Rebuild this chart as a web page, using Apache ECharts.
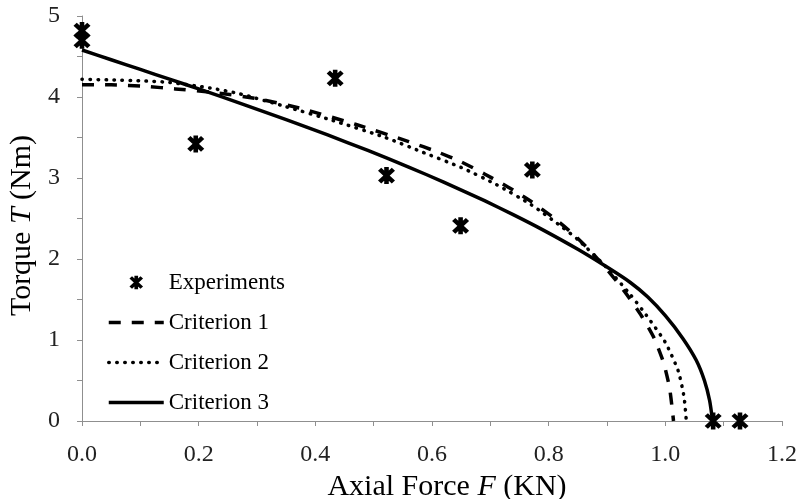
<!DOCTYPE html>
<html>
<head>
<meta charset="utf-8">
<script src="https://cdn.jsdelivr.net/npm/echarts@6/dist/echarts.min.js"></script>
<style>
html,body{margin:0;padding:0;background:#fff;}
#chart{width:799px;height:499px;}
</style>
</head>
<body>
<div id="chart"></div>
<script>
// ---- data ----
const expF = [0.0, 0.0, 0.195, 0.434, 0.522, 0.649, 0.772, 1.082, 1.128];
const expT = [4.82, 4.70, 3.42, 4.23, 3.03, 2.41, 3.10, 0.0, 0.0];

const crit1F = [0, 0.05, 0.11, 0.16, 0.22, 0.30, 0.38, 0.47, 0.56, 0.61, 0.65, 0.69, 0.73, 0.77, 0.81, 0.84, 0.87, 0.90, 0.93, 0.959, 0.981, 0.997, 1.007, 1.012, 1.014];
const crit1T = [4.15, 4.15, 4.13, 4.10, 4.06, 3.98, 3.85, 3.66, 3.45, 3.32, 3.20, 3.05, 2.89, 2.71, 2.50, 2.32, 2.11, 1.87, 1.60, 1.30, 1.02, 0.72, 0.42, 0.14, 0.0];

const crit2F = [0, 0.05, 0.10, 0.15, 0.22, 0.27, 0.35, 0.43, 0.52, 0.58, 0.65, 0.71, 0.77, 0.82, 0.85, 0.90, 0.94, 0.967, 1.0, 1.022, 1.032, 1.036];
const crit2T = [4.22, 4.21, 4.20, 4.18, 4.11, 4.04, 3.88, 3.71, 3.50, 3.33, 3.13, 2.92, 2.67, 2.41, 2.24, 1.89, 1.56, 1.31, 0.97, 0.62, 0.30, 0.0];

const crit3F = [0, 0.05, 0.10, 0.15, 0.20, 0.28, 0.35, 0.42, 0.49, 0.56, 0.62, 0.69, 0.74, 0.79, 0.85, 0.90, 0.94, 0.97, 1.0, 1.03, 1.053, 1.067, 1.076, 1.081];
const crit3T = [4.58, 4.46, 4.34, 4.22, 4.10, 3.90, 3.72, 3.535, 3.34, 3.135, 2.95, 2.72, 2.545, 2.36, 2.12, 1.90, 1.71, 1.53, 1.30, 1.02, 0.75, 0.50, 0.25, 0.0];

const seriesNames = ['Experiments', 'Criterion 1', 'Criterion 2', 'Criterion 3'];
const xTickLabels = ['0.0', '0.2', '0.4', '0.6', '0.8', '1.0', '1.2'];
const yTickLabels = ['0', '1', '2', '3', '4', '5'];

function pairs(xs, ys) { return xs.map((x, i) => [x, ys[i]]); }

const starPath = 'path://M-2,-8L2,-8L2,8L-2,8Z' +
  'M-4.59,-7.41L7.41,4.59L4.59,7.41L-7.41,-4.59Z' +
  'M4.59,-7.41L7.41,-4.59L-4.59,7.41L-7.41,4.59Z';

const serif = 'Liberation Serif';
const axisGray = '#8f8f8f';

const chart = echarts.init(document.getElementById('chart'), null, {renderer: 'canvas'});
chart.setOption({
  animation: false,
  backgroundColor: '#fff',
  grid: {left: 82, right: 17, top: 16, bottom: 78, containLabel: false, outerBoundsMode: 'none'},
  xAxis: {
    type: 'value', min: 0, max: 1.2, interval: 0.1,
    name: '{n|Axial Force }{i|F}{n| (KN)}',
    nameLocation: 'middle', nameGap: 48,
    nameTextStyle: {
      padding: [0, 0, 0, 30],
      rich: {
        n: {fontFamily: serif, fontSize: 30, color: '#000'},
        i: {fontFamily: serif, fontSize: 30, fontStyle: 'italic', color: '#000'}
      }
    },
    axisLine: {show: true, lineStyle: {color: axisGray, width: 1}},
    axisTick: {show: true, inside: false, length: 5, lineStyle: {color: axisGray, width: 1}},
    axisLabel: {
      margin: 22, fontFamily: serif, fontSize: 24, color: '#222',
      formatter: function (v) {
        const k = Math.round(v * 10);
        if (k % 2 !== 0) return '';
        return xTickLabels[k / 2] || '';
      }
    },
    splitLine: {show: false}
  },
  yAxis: {
    type: 'value', min: 0, max: 5, interval: 0.5,
    name: '{n|Torque }{i|T}{n| (Nm)}',
    nameLocation: 'middle', nameGap: 40, nameRotate: 90,
    nameTextStyle: {
      padding: [0, 14, 0, 0],
      rich: {
        n: {fontFamily: serif, fontSize: 30, color: '#000'},
        i: {fontFamily: serif, fontSize: 30, fontStyle: 'italic', color: '#000'}
      }
    },
    axisLine: {show: true, lineStyle: {color: axisGray, width: 1}},
    axisTick: {show: true, inside: false, length: 5, lineStyle: {color: axisGray, width: 1}},
    axisLabel: {
      margin: 22, fontFamily: serif, fontSize: 24, color: '#222',
      formatter: function (v) {
        const k = Math.round(v * 2);
        if (k % 2 !== 0) return '';
        return yTickLabels[k / 2] || '';
      }
    },
    splitLine: {show: false}
  },
  legend: {
    orient: 'vertical', left: 102, top: 266,
    itemWidth: 55, itemHeight: 17, itemGap: 17,
    textStyle: {fontFamily: serif, fontSize: 23, color: '#000'},
    data: [
      {name: seriesNames[0], lineStyle: {opacity: 0, width: 0}},
      {name: seriesNames[1], itemStyle: {opacity: 0}, lineStyle: {width: 3.5, type: [12, 11], color: '#000'}},
      {name: seriesNames[2], itemStyle: {opacity: 0}, lineStyle: {width: 3.5, type: [0.5, 7.5], cap: 'round', color: '#000'}},
      {name: seriesNames[3], itemStyle: {opacity: 0}, lineStyle: {width: 3.5, color: '#000'}}
    ]
  },
  series: [
    {
      name: seriesNames[1], type: 'line', data: pairs(crit1F, crit1T),
      showSymbol: false, symbol: 'circle', smooth: 0.2, clip: false,
      lineStyle: {color: '#000', width: 3.5, type: [12, 11]},
      itemStyle: {color: '#000'}, emphasis: {disabled: true}
    },
    {
      name: seriesNames[2], type: 'line', data: pairs(crit2F, crit2T),
      showSymbol: false, symbol: 'circle', smooth: 0.2, clip: false,
      lineStyle: {color: '#000', width: 3.5, type: [0.5, 7.5], cap: 'round'},
      itemStyle: {color: '#000'}, emphasis: {disabled: true}
    },
    {
      name: seriesNames[3], type: 'line', data: pairs(crit3F, crit3T),
      showSymbol: false, symbol: 'circle', smooth: 0.2, clip: false,
      lineStyle: {color: '#000', width: 3.5},
      itemStyle: {color: '#000'}, emphasis: {disabled: true}
    },
    {
      name: seriesNames[0], type: 'line', data: pairs(expF, expT),
      showSymbol: true, symbol: starPath, symbolSize: 17, clip: false, z: 5,
      lineStyle: {opacity: 0, width: 0},
      itemStyle: {color: '#000'}, emphasis: {disabled: true}
    }
  ]
});
</script>
</body>
</html>
